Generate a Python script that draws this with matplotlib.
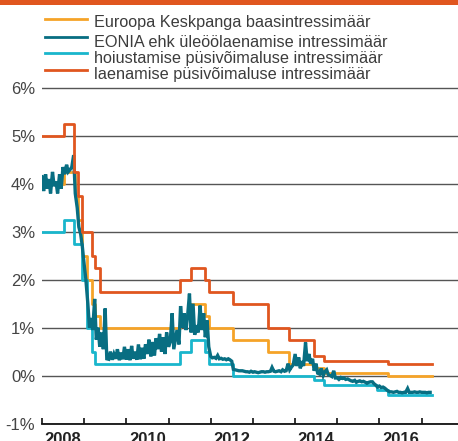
import matplotlib
matplotlib.use("Agg")
import matplotlib.pyplot as plt
import matplotlib.dates as mdates
from matplotlib.lines import Line2D
from matplotlib.patches import Rectangle
import pandas as pd
import numpy as np
from datetime import datetime

plt.rcParams['font.family'] = ['Liberation Sans', 'DejaVu Sans']

# ---------------- data ----------------
series_names = [
    "Euroopa Keskpanga baasintressimäär",
    "EONIA ehk üleöölaenamise intressimäär",
    "hoiustamise püsivõimaluse intressimäär",
    "laenamise püsivõimaluse intressimäär",
]

rate_dates = ['2008-01-01', '2008-07-09', '2008-10-08', '2008-10-15', '2008-11-12',
              '2008-12-10', '2009-01-21', '2009-03-11', '2009-04-08', '2009-05-13',
              '2011-04-13', '2011-07-13', '2011-11-09', '2011-12-14', '2012-07-11',
              '2013-05-08', '2013-11-13', '2014-06-11', '2014-09-10', '2015-12-09',
              '2016-03-16', '2017-03-31']
mro_rate = [4.00, 4.25, 4.25, 3.75, 3.25, 2.50, 2.00, 1.50, 1.25, 1.00,
            1.25, 1.50, 1.25, 1.00, 0.75, 0.50, 0.25, 0.15, 0.05, 0.05, 0.00, 0.00]
deposit_rate = [3.00, 3.25, 2.75, 2.75, 2.75, 2.00, 1.00, 0.50, 0.25, 0.25,
                0.50, 0.75, 0.50, 0.25, 0.00, 0.00, 0.00, -0.10, -0.20, -0.30, -0.40, -0.40]
lending_rate = [5.00, 5.25, 4.25, 4.25, 3.75, 3.00, 3.00, 2.50, 2.25, 1.75,
                2.00, 2.25, 2.00, 1.75, 1.50, 1.00, 0.75, 0.40, 0.30, 0.30, 0.25, 0.25]

# EONIA, values read on the 1st and 15th of each month
eonia_2008 = [4.15, 3.85, 4.20, 3.90, 4.10, 3.80, 4.25, 3.95, 4.05, 3.80, 4.20, 3.90,
              4.35, 4.20, 4.40, 4.25, 4.30, 4.35, 4.60, 3.80, 3.50, 3.10, 2.95, 2.70]
eonia_2009 = [2.30, 2.00, 1.50, 1.00, 1.20, 0.95, 1.60, 0.75, 1.00, 0.60, 0.90, 0.55,
              1.40, 0.35, 0.34, 0.50, 0.33, 0.45, 0.35, 0.55, 0.32, 0.48, 0.34, 0.60]
eonia_2010 = [0.33, 0.55, 0.32, 0.62, 0.35, 0.50, 0.33, 0.65, 0.34, 0.58, 0.35, 0.65,
              0.45, 0.75, 0.40, 0.70, 0.42, 0.78, 0.55, 0.87, 0.50, 0.80, 0.45, 0.90]
eonia_2011 = [0.60, 0.70, 1.30, 0.55, 0.75, 0.95, 0.65, 1.45, 1.00, 1.30, 0.95, 1.25,
              1.71, 0.90, 1.50, 0.85, 1.05, 0.90, 1.46, 0.95, 1.30, 0.80, 1.15, 0.60]
eonia_2012 = [0.40, 0.37, 0.38, 0.36, 0.42, 0.35, 0.36, 0.34, 0.35, 0.33, 0.35, 0.33,
              0.30, 0.13, 0.12, 0.11, 0.10, 0.10, 0.10, 0.09, 0.08, 0.08, 0.07, 0.09]
eonia_2013 = [0.07, 0.08, 0.07, 0.06, 0.07, 0.08, 0.08, 0.07, 0.08, 0.08, 0.09, 0.17,
              0.09, 0.08, 0.09, 0.10, 0.08, 0.12, 0.09, 0.10, 0.25, 0.12, 0.18, 0.22]
eonia_2014 = [0.45, 0.20, 0.38, 0.15, 0.30, 0.20, 0.69, 0.30, 0.45, 0.25, 0.35, 0.10,
              0.25, 0.05, 0.03, 0.15, 0.00, 0.08, 0.12, 0.02, 0.00, -0.02, 0.10, -0.05]
eonia_2015 = [-0.05, -0.08, -0.04, -0.06, -0.05, -0.08, -0.07, -0.09, -0.11, -0.12, -0.10, -0.14,
              -0.12, -0.11, -0.13, -0.12, -0.14, -0.16, -0.14, -0.13, -0.13, -0.17, -0.20, -0.24]
eonia_2016 = [-0.22, -0.25, -0.24, -0.26, -0.29, -0.32, -0.34, -0.34, -0.35, -0.34, -0.33, -0.35,
              -0.35, -0.36, -0.35, -0.35, -0.27, -0.35, -0.35, -0.35, -0.34, -0.35, -0.35, -0.34]
eonia_2017 = [-0.35, -0.35, -0.35, -0.36, -0.35, -0.35]

y_ticks = [-1, 0, 1, 2, 3, 4, 5, 6]
y_tick_labels = ["-1%", "0%", "1%", "2%", "3%", "4%", "5%", "6%"]
x_year_labels = ["2008", "2010", "2012", "2014", "2016"]

# ---------------- styles ----------------
c_mro = "#f5a328"
c_eonia = "#086e82"
c_dep = "#19b6cc"
c_lend = "#e0561f"
c_bar = "#e0561f"

W, H = 458, 441
fig = plt.figure(figsize=(W / 100, H / 100), dpi=100)

# top bar
fig.add_artist(Rectangle((0, 1 - 5 / H), 1, 5 / H, transform=fig.transFigure,
                         facecolor=c_bar, edgecolor='none'))

# axes geometry
ppu = (423.5 - 88.0) / 7.0
ytop = 6.1
top_px = 88.0 - (ytop - 6) * ppu
ax = fig.add_axes([42 / W, (H - 423.5) / H, (W - 42) / W, (423.5 - top_px) / H])

rd = pd.to_datetime(rate_dates)
eonia_vals = (eonia_2008 + eonia_2009 + eonia_2010 + eonia_2011 + eonia_2012 +
              eonia_2013 + eonia_2014 + eonia_2015 + eonia_2016 + eonia_2017)
ed = pd.date_range('2008-01-01', periods=len(eonia_vals), freq='SMS')

lw = 2.0
ax.plot(rd, mro_rate, drawstyle='steps-post', color=c_mro, lw=lw, zorder=3)
ax.plot(rd, deposit_rate, drawstyle='steps-post', color=c_dep, lw=lw, zorder=3.5)
ax.plot(ed, eonia_vals, color=c_eonia, lw=2.4, zorder=4, solid_joinstyle='miter')
ax.plot(rd, lending_rate, drawstyle='steps-post', color=c_lend, lw=lw, zorder=5)

x0 = mdates.date2num(datetime(2008, 1, 1))
px_per_year = 42.18
xmax = x0 + (W - 42) / px_per_year * 365.25
ax.set_xlim(x0, xmax)
ax.set_ylim(-1, ytop)

# grid
ax.set_yticks(y_ticks)
ax.set_yticklabels(y_tick_labels)
ax.yaxis.grid(True, color='#555555', lw=1.0, zorder=1)
ax.set_axisbelow(True)
ax.tick_params(axis='y', length=0, pad=5, labelsize=12, labelcolor='#444444')

for s in ['top', 'right', 'left']:
    ax.spines[s].set_visible(False)
ax.spines['bottom'].set_color('#111111')
ax.spines['bottom'].set_linewidth(1.3)
ax.spines['bottom'].set_zorder(6)

major = [mdates.date2num(datetime(y, 1, 1)) for y in range(2008, 2018)]
minor = [mdates.date2num(datetime(int(y), 7, 1)) for y in x_year_labels]
ax.set_xticks(major)
ax.set_xticklabels([])
ax.set_xticks(minor, minor=True)
ax.set_xticklabels(x_year_labels, minor=True)
ax.tick_params(axis='x', which='major', direction='in', length=4.5, width=1.2, color='#111111')
ax.tick_params(axis='x', which='minor', length=0, pad=6, labelsize=12, labelcolor='#222222')
for t in ax.get_xticklabels(minor=True):
    t.set_fontweight('bold')

ax.patch.set_visible(False)

# legend (manual)
leg_line_y = [19, 36.7, 53.3, 70.3]
leg_text_y = [22.8, 42.5, 58.7, 74.2]
leg_colors = [c_mro, c_eonia, c_dep, c_lend]
for name, ly, ty, col in zip(series_names, leg_line_y, leg_text_y, leg_colors):
    fig.add_artist(Line2D([45 / W, 87 / W], [1 - ly / H, 1 - ly / H],
                          transform=fig.transFigure, color=col, lw=2.0))
    fig.text(94 / W, 1 - ty / H, name, fontsize=11.7, color='#3c3c3c',
             va='center', ha='left')

fig.savefig("out.png", dpi=100)
